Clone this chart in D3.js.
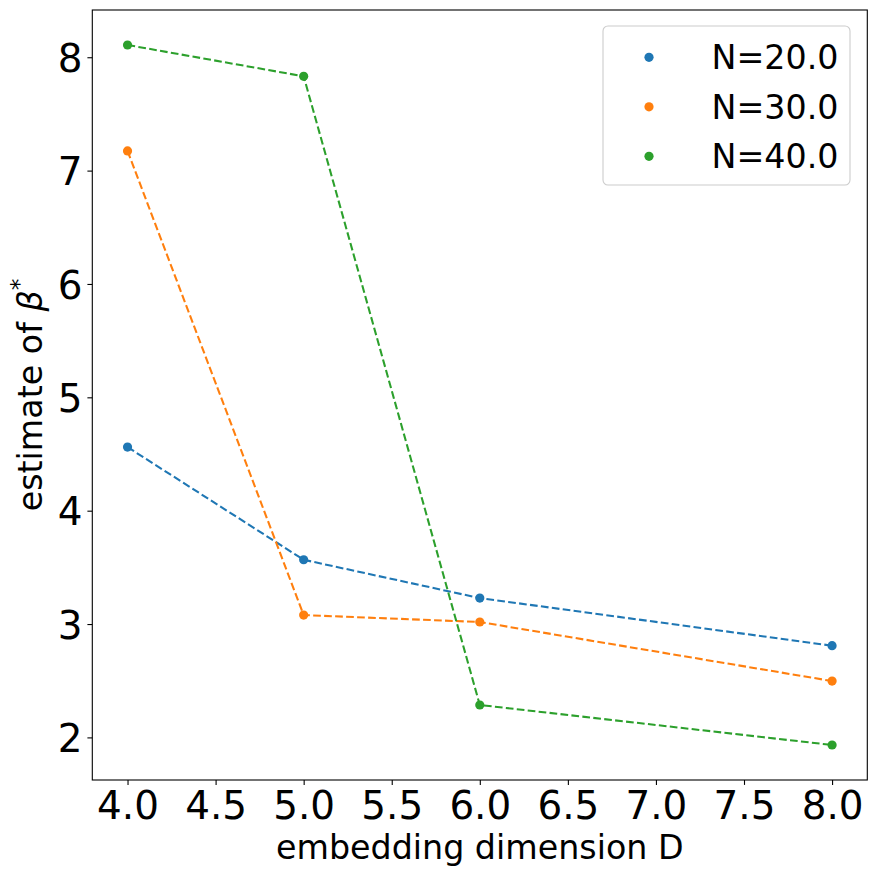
<!DOCTYPE html>
<html>
<head>
<meta charset="utf-8">
<script src="https://cdn.jsdelivr.net/npm/d3@7"></script>
<style>
  html, body { margin: 0; padding: 0; background: #fff; }
  text { font-family: "DejaVu Sans", sans-serif; fill: #000; }
</style>
</head>
<body>
<svg id="chart" width="876" height="876"></svg>
<script>
// ---- data ----
const dims = [4, 5, 6, 8];
const seriesNames = ["N=20.0", "N=30.0", "N=40.0"];
const valuesN20 = [4.561, 3.567, 3.229, 2.809];
const valuesN30 = [7.174, 3.079, 3.018, 2.497];
const valuesN40 = [8.108, 7.832, 2.286, 1.933];
const colors = ["#1f77b4", "#ff7f0e", "#2ca02c"];
const xTicks = [4.0, 4.5, 5.0, 5.5, 6.0, 6.5, 7.0, 7.5, 8.0];
const yTicks = [2, 3, 4, 5, 6, 7, 8];

const allSeries = [valuesN20, valuesN30, valuesN40];

const svg = d3.select("#chart");
const margin = { left: 92.3, right: 876 - 867.3, top: 10, bottom: 876 - 780 };
const W = 876, H = 876;

// matplotlib-style 5% margins
const allY = allSeries.flat();
const yMin = d3.min(allY), yMax = d3.max(allY);
const yPad = (yMax - yMin) * 0.05;
const xPad = (d3.max(dims) - d3.min(dims)) * 0.05;

const x = d3.scaleLinear()
  .domain([d3.min(dims) - xPad, d3.max(dims) + xPad])
  .range([margin.left, W - margin.right]);
const y = d3.scaleLinear()
  .domain([yMin - yPad, yMax + yPad])
  .range([H - margin.bottom, margin.top]);

// axes
const tickFont = 38.9;
const xAxis = d3.axisBottom(x).tickValues(xTicks).tickFormat(d3.format(".1f"))
  .tickSize(4.9).tickPadding(4.9);
const yAxis = d3.axisLeft(y).tickValues(yTicks).tickFormat(d3.format("d"))
  .tickSize(4.9).tickPadding(4.9);

const gx = svg.append("g").attr("transform", `translate(0,${H - margin.bottom})`).call(xAxis);
const gy = svg.append("g").attr("transform", `translate(${margin.left},0)`).call(yAxis);
[gx, gy].forEach(g => {
  g.select(".domain").remove();
  g.selectAll(".tick line").attr("stroke", "#000").attr("stroke-width", 1.1);
  g.selectAll(".tick text").attr("font-size", tickFont).attr("font-family", "DejaVu Sans").attr("fill", "#000");
});
gx.selectAll(".tick text").attr("dy", null).attr("y", 39)
  .attr("dominant-baseline", "alphabetic");
gy.selectAll(".tick text").attr("dy", null).attr("y", tickFont * 0.3645);

// frame
svg.append("rect")
  .attr("x", margin.left).attr("y", margin.top)
  .attr("width", W - margin.left - margin.right)
  .attr("height", H - margin.top - margin.bottom)
  .attr("fill", "none").attr("stroke", "#000").attr("stroke-width", 1.1);

// lines and points
const line = d3.line().x((d, i) => x(dims[i])).y(d => y(d));
allSeries.forEach((vals, si) => {
  svg.append("path")
    .datum(vals)
    .attr("d", line)
    .attr("fill", "none")
    .attr("stroke", colors[si])
    .attr("stroke-width", 2.08)
    .attr("stroke-dasharray", "7.7,3.3");
});
allSeries.forEach((vals, si) => {
  svg.append("g").selectAll("circle")
    .data(vals)
    .join("circle")
    .attr("cx", (d, i) => x(dims[i]))
    .attr("cy", d => y(d))
    .attr("r", 4.6)
    .attr("fill", colors[si]);
});

// axis labels
const labelFont = 33.3;
svg.append("text")
  .attr("x", (margin.left + W - margin.right) / 2)
  .attr("y", 859)
  .attr("text-anchor", "middle")
  .attr("font-size", labelFont)
  .text("embedding dimension D");

const yl = svg.append("text")
  .attr("transform", `translate(42,${(margin.top + H - margin.bottom) / 2}) rotate(-90)`)
  .attr("text-anchor", "middle")
  .attr("font-size", labelFont);
yl.append("tspan").text("estimate of ");
yl.append("tspan").attr("font-style", "italic").text("β");
yl.append("tspan").attr("font-size", labelFont * 0.7).attr("dy", -labelFont * 0.45).text("*");

// legend
const lg = svg.append("g");
lg.append("rect")
  .attr("x", 603).attr("y", 26).attr("width", 247).attr("height", 159)
  .attr("rx", 5).attr("ry", 5)
  .attr("fill", "#fff").attr("fill-opacity", 0.8)
  .attr("stroke", "#cccccc").attr("stroke-width", 1.1);
seriesNames.forEach((name, i) => {
  const cy = 57.3 + i * 49.5;
  lg.append("circle").attr("cx", 649).attr("cy", cy).attr("r", 4.6).attr("fill", colors[i]);
  lg.append("text").attr("x", 711.5).attr("y", cy + 33.3 * 0.3645)
    .attr("font-size", 33.3).text(name);
});
</script>
</body>
</html>
